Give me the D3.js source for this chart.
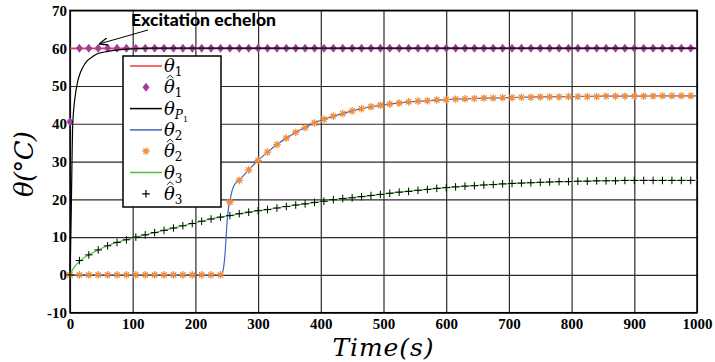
<!DOCTYPE html>
<html>
<head>
<meta charset="utf-8">
<script src="https://cdn.jsdelivr.net/npm/d3@7"></script>
<style>
  body { margin: 0; background: #fff; }
</style>
</head>
<body>
<div id="plot"></div>
<script>
//Size;
const w = 715;
const h = 362;
const tickFont = "Liberation Serif";
const mathFont = "DejaVu Serif";

//Data;
const xTicks = [0, 100, 200, 300, 400, 500, 600, 700, 800, 900, 1000];
const yTicks = [-10, 0, 10, 20, 30, 40, 50, 60, 70];

//Reference theta1 (constant);
const theta1Time = [0, 1000];
const theta1 = [60, 60];

//Plant theta_P1;
const thetaP1Time = [0, 1, 2, 3, 4, 6, 8, 12, 16, 20, 26, 34, 42, 55, 70, 85, 100, 130, 200, 1000];
const thetaP1 = [0, 8, 17, 28, 38, 44, 47, 51, 53.3, 54.8, 56.4, 57.5, 58.4, 59.0, 59.4, 59.7, 59.85, 60, 60, 60];

//theta2;
const theta2Time = [0, 240, 243, 245, 247, 249, 251, 253, 255, 258, 262, 270, 285, 300, 315, 330, 345, 360, 375, 390,
                    405, 420, 435, 450, 480, 510, 540, 570, 600, 650, 700, 750, 800, 850, 900, 950, 1000];
const theta2 = [0, 0, 0.5, 2, 5, 10, 15, 18, 19.5, 22, 23.8, 25.1, 27.8, 30.3, 32.5, 34.5, 36.2, 37.7, 39.0, 40.2,
                41.2, 42.0, 42.7, 43.4, 44.5, 45.2, 45.8, 46.1, 46.4, 46.7, 46.9, 47.1, 47.2, 47.3, 47.3, 47.4, 47.4];

//theta3;
const theta3Time = [0, 2, 5, 9, 15, 30, 45, 60, 75, 90, 105, 135, 165, 195, 225, 255, 285, 315, 345, 375,
                    405, 435, 465, 495, 525, 555, 585, 615, 660, 705, 750, 795, 840, 885, 930, 975, 1000];
const theta3 = [0, 0.7, 1.6, 2.5, 3.6, 5.3, 6.6, 7.7, 8.6, 9.3, 10.0, 11.2, 12.4, 13.6, 14.8, 15.7, 16.6, 17.3, 18.1, 18.8,
                19.5, 20.2, 20.7, 21.3, 21.9, 22.4, 22.9, 23.3, 23.8, 24.2, 24.5, 24.7, 24.9, 25.0, 25.0, 25.0, 25.0];

//Estimates, sampled every 15 s;
const markTime = d3.range(0, 991, 15);
const theta1Hat = [40.5, 60, 60, 60, 60, 60, 60, 60, 60, 60, 60,
                   60, 60, 60, 60, 60, 60, 60, 60, 60, 60, 60,
                   60, 60, 60, 60, 60, 60, 60, 60, 60, 60, 60,
                   60, 60, 60, 60, 60, 60, 60, 60, 60, 60, 60,
                   60, 60, 60, 60, 60, 60, 60, 60, 60, 60, 60,
                   60, 60, 60, 60, 60, 60, 60, 60, 60, 60, 60,
                   60];
const theta2Hat = [0, 0, 0, 0, 0, 0, 0, 0, 0, 0, 0,
                   0, 0, 0, 0, 0, 0, 19.3, 25.0, 27.8, 30.3, 32.5,
                   34.5, 36.2, 37.7, 39.0, 40.2, 41.2, 42.0, 42.7, 43.4, 44.0, 44.5,
                   44.9, 45.2, 45.5, 45.8, 46.0, 46.1, 46.3, 46.4, 46.5, 46.6, 46.7,
                   46.8, 46.8, 46.9, 46.9, 47.0, 47.0, 47.1, 47.1, 47.1, 47.2, 47.2,
                   47.2, 47.2, 47.3, 47.3, 47.3, 47.3, 47.3, 47.3, 47.4, 47.4, 47.4,
                   47.4];
const theta3Hat = [0, 3.8, 5.3, 6.6, 7.7, 8.6, 9.3, 10.0, 10.6, 11.2, 11.8,
                   12.4, 13.0, 13.6, 14.2, 14.8, 15.3, 15.7, 16.2, 16.6, 17.0, 17.3,
                   17.7, 18.1, 18.5, 18.8, 19.2, 19.5, 19.9, 20.2, 20.4, 20.7, 21.0,
                   21.3, 21.6, 21.9, 22.1, 22.4, 22.6, 22.9, 23.1, 23.3, 23.5, 23.6,
                   23.8, 23.9, 24.1, 24.2, 24.3, 24.4, 24.5, 24.6, 24.7, 24.7, 24.8,
                   24.8, 24.9, 24.9, 24.9, 25.0, 25.0, 25.0, 25.0, 25.0, 25.0, 25.0,
                   25.0];

//Colors;
const cRed = "#f03a3a";
const cPurple = "#a33c9f";
const cBlue = "#4563c2";
const cOrange = "#f08c3a";
const cGreen = "#4cc23a";

//SVG;
const svg = d3.select("#plot")
  .append("svg")
    .attr("width", w)
    .attr("height", h);

svg.append("rect").attr("width", w).attr("height", h).attr("fill", "#fff");

//Scales;
const x = d3.scaleLinear().domain([0, 1000]).range([70, 697]);
const y = d3.scaleLinear().domain([-10, 70]).range([312.7, 10.4]);

//Grid;
svg.append("g")
  .attr("transform", "translate(0," + y(-10) + ")")
  .call(d3.axisBottom(x).tickValues(xTicks).tickSize(-(y(-10) - y(70))).tickFormat(""))
  .call(g => g.select(".domain").remove())
  .call(g => g.selectAll("line").attr("stroke", "#2a2a2a").attr("stroke-width", 1.2));

svg.append("g")
  .attr("transform", "translate(" + x(0) + ",0)")
  .call(d3.axisLeft(y).tickValues(yTicks).tickSize(-(x(1000) - x(0))).tickFormat(""))
  .call(g => g.select(".domain").remove())
  .call(g => g.selectAll("line").attr("stroke", "#2a2a2a").attr("stroke-width", 1.2));

//Tick labels;
function styleTicks(g){
  g.attr("font-family", tickFont).attr("font-size", 15).attr("font-weight", "bold");
  g.select(".domain").remove();
  g.selectAll("text").attr("fill", "#000");
}

svg.append("g")
  .attr("transform", "translate(0," + y(-10) + ")")
  .call(d3.axisBottom(x).tickValues(xTicks).tickSize(0).tickPadding(6).tickFormat(d => String(d)))
  .call(styleTicks);

svg.append("g")
  .attr("transform", "translate(" + x(0) + ",0)")
  .call(d3.axisLeft(y).tickValues(yTicks).tickSize(0).tickPadding(3).tickFormat(d => String(d)))
  .call(styleTicks);

//Frame;
svg.append("rect")
  .attr("x", x(0)).attr("y", y(70))
  .attr("width", x(1000) - x(0)).attr("height", y(-10) - y(70))
  .attr("fill", "none").attr("stroke", "#000").attr("stroke-width", 1.5);

//Line generator;
const line = d3.line()
  .x(d => x(d[0]))
  .y(d => y(d[1]))
  .curve(d3.curveMonotoneX);

function drawLine(t, v, col, sw){
  svg.append("path")
    .datum(t.map((d, i) => [d, v[i]]))
    .attr("d", line)
    .attr("fill", "none")
    .attr("stroke", col)
    .attr("stroke-width", sw);
}

//Marker shapes;
const diamond = "M0,-4.5L3.5,0L0,4.5L-3.5,0Z";
const star = "M-3.8,0H3.8M0,-3.8V3.8M-2.7,-2.7L2.7,2.7M-2.7,2.7L2.7,-2.7";
const plus = "M-3.8,0H3.8M0,-3.8V3.8";

function drawMarks(v, shape, fill, stroke, sw){
  svg.append("g")
    .selectAll("path")
    .data(markTime.map((d, i) => [d, v[i]]))
    .enter()
    .append("path")
      .attr("transform", d => "translate(" + x(d[0]) + "," + y(d[1]) + ")")
      .attr("d", shape)
      .attr("fill", fill)
      .attr("stroke", stroke)
      .attr("stroke-width", sw);
}

drawLine(theta1Time, theta1, cRed, 1.5);
drawMarks(theta1Hat, diamond, cPurple, "none", 0);
drawLine(thetaP1Time, thetaP1, "#000", 1.2);
drawLine(theta2Time, theta2, cBlue, 1.2);
drawMarks(theta2Hat, star, "none", cOrange, 1.3);
drawLine(theta3Time, theta3, cGreen, 1.2);
drawMarks(theta3Hat, plus, "none", "#000", 1);

//Annotation;
svg.append("defs").append("marker")
  .attr("id", "arr")
  .attr("viewBox", "0 0 10 10")
  .attr("refX", 10).attr("refY", 5)
  .attr("markerWidth", 9).attr("markerHeight", 9)
  .attr("markerUnits", "userSpaceOnUse")
  .attr("orient", "auto")
  .append("path")
    .attr("d", "M0,1L10,5L0,9")
    .attr("fill", "none")
    .attr("stroke", "#000")
    .attr("stroke-width", 1.5);

svg.append("line")
  .attr("x1", 148).attr("y1", 30)
  .attr("x2", 99).attr("y2", 44)
  .attr("stroke", "#000").attr("stroke-width", 1)
  .attr("marker-end", "url(#arr)");

svg.append("text")
  .attr("x", 131).attr("y", 26)
  .attr("font-family", "Lato")
  .attr("font-weight", "900")
  .attr("font-size", 17)
  .attr("textLength", 145)
  .attr("lengthAdjust", "spacingAndGlyphs")
  .text("Excitation echelon");

//Legend;
const legItems = [
  {type: "line", col: cRed, hat: false, sub: "1"},
  {type: "mark", shape: diamond, fill: cPurple, stroke: "none", hat: true, sub: "1"},
  {type: "line", col: "#000", hat: false, sub: "P", subsub: "1"},
  {type: "line", col: cBlue, hat: false, sub: "2"},
  {type: "mark", shape: star, fill: "none", stroke: cOrange, hat: true, sub: "2"},
  {type: "line", col: cGreen, hat: false, sub: "3"},
  {type: "mark", shape: plus, fill: "none", stroke: "#000", hat: true, sub: "3"}
];

const leg = svg.append("g");
leg.append("rect")
  .attr("x", 123).attr("y", 56)
  .attr("width", 98).attr("height", 151)
  .attr("fill", "#fff").attr("stroke", "#000").attr("stroke-width", 1.5);

legItems.forEach(function(d, i){
  const cy = 66 + i * 21.3;
  if(d.type === "line"){
    leg.append("line")
      .attr("x1", 130).attr("x2", 162)
      .attr("y1", cy).attr("y2", cy)
      .attr("stroke", d.col).attr("stroke-width", 1.5);
  } else{
    leg.append("path")
      .attr("transform", "translate(146," + cy + ")")
      .attr("d", d.shape)
      .attr("fill", d.fill)
      .attr("stroke", d.stroke)
      .attr("stroke-width", 1.2);
  }
  const t = leg.append("text")
    .attr("x", 164).attr("y", cy + 6)
    .attr("font-family", mathFont)
    .attr("font-style", "italic")
    .attr("font-size", 18);
  t.append("tspan").text("θ");
  t.append("tspan")
    .attr("font-style", d.sub === "P" ? "italic" : "normal")
    .attr("font-size", 12)
    .attr("dy", 4)
    .text(d.sub);
  if(d.subsub){
    t.append("tspan")
      .attr("font-style", "normal")
      .attr("font-size", 8)
      .attr("dy", 3)
      .text(d.subsub);
  }
  if(d.hat){
    leg.append("path")
      .attr("d", "M" + 167 + "," + (cy - 9) + "l3.2,-3.2l3.2,3.2")
      .attr("fill", "none")
      .attr("stroke", "#000")
      .attr("stroke-width", 0.9);
  }
});

//Axis titles;
svg.append("text")
  .attr("x", 383).attr("y", 356)
  .attr("text-anchor", "middle")
  .attr("font-family", mathFont)
  .attr("font-style", "italic")
  .attr("font-size", 25)
  .attr("textLength", 101)
  .text("Time(s)");

svg.append("text")
  .attr("transform", "translate(33,164) rotate(-90)")
  .attr("text-anchor", "middle")
  .attr("font-family", mathFont)
  .attr("font-style", "italic")
  .attr("font-size", 26)
  .attr("textLength", 66)
  .text("θ(°C)");
</script>
</body>
</html>
